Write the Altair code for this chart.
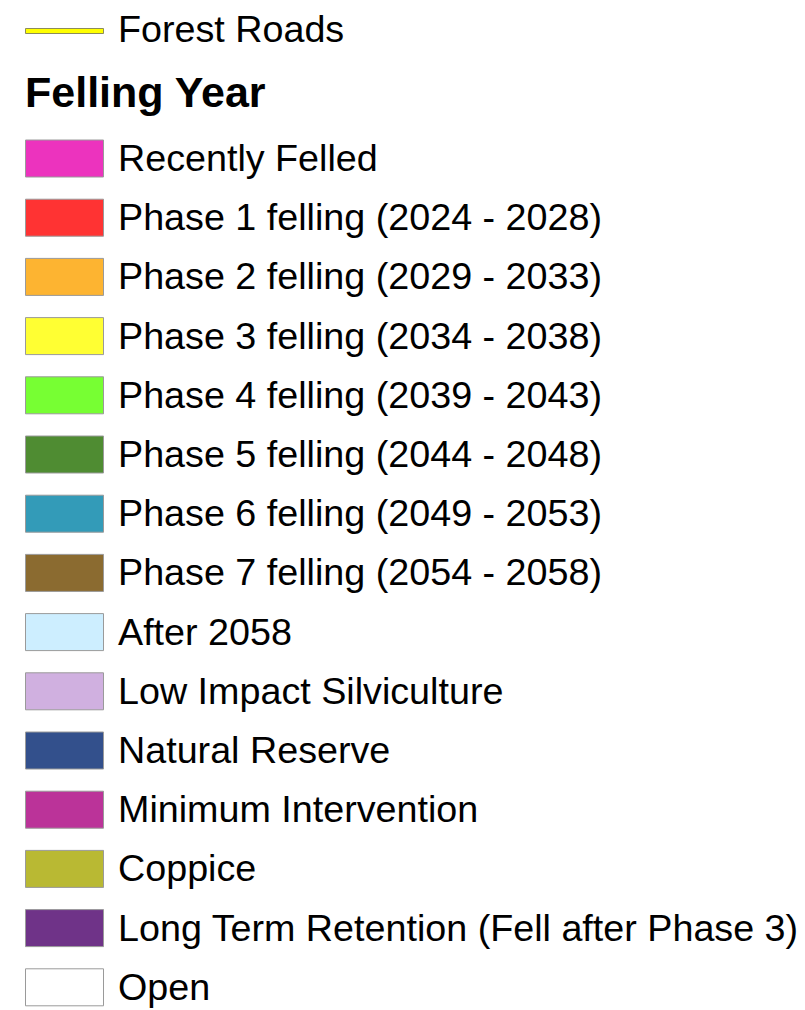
import altair as alt
import pandas as pd

FONT = "Liberation Sans, Arial, sans-serif"

legend_title = "Felling Year"
road_label = "Forest Roads"
road_color = "#ffff00"

categories = [
    "Recently Felled",
    "Phase 1 felling (2024 - 2028)",
    "Phase 2 felling (2029 - 2033)",
    "Phase 3 felling (2034 - 2038)",
    "Phase 4 felling (2039 - 2043)",
    "Phase 5 felling (2044 - 2048)",
    "Phase 6 felling (2049 - 2053)",
    "Phase 7 felling (2054 - 2058)",
    "After 2058",
    "Low Impact Silviculture",
    "Natural Reserve",
    "Minimum Intervention",
    "Coppice",
    "Long Term Retention (Fell after Phase 3)",
    "Open",
]
colors = [
    "#ec33be",
    "#ff3333",
    "#fdb431",
    "#ffff33",
    "#77ff33",
    "#4f8c32",
    "#339bb8",
    "#8b6b30",
    "#cdeeff",
    "#d0b0e0",
    "#33508c",
    "#bb3399",
    "#b9b933",
    "#6f3388",
    "#ffffff",
]

df = pd.DataFrame({"label": categories, "color": colors})
road_df = pd.DataFrame({"label": [road_label]})
title_df = pd.DataFrame({"label": [legend_title]})

yscale = alt.Scale(domain=categories, range=[132, 997.8], paddingInner=0.375, paddingOuter=0)
yenc = alt.Y("label:N", scale=yscale, axis=None, sort=categories)

swatches = alt.Chart(df).mark_rect(stroke="#9a9a9a", strokeWidth=1).encode(
    y=yenc,
    x=alt.value(17.5),
    x2=alt.value(95.5),
    fill=alt.Fill("color:N", scale=None),
)

labels = alt.Chart(df).mark_text(
    align="left", baseline="alphabetic", dy=12.5, fontSize=37.7, font=FONT, color="#000000"
).encode(
    y=yenc,
    x=alt.value(110),
    text="label:N",
)

road_line = alt.Chart(road_df).mark_rect(
    fill=road_color, stroke="#8c8c5a", strokeWidth=1
).encode(
    x=alt.value(17.5), x2=alt.value(95.5), y=alt.value(20.5), y2=alt.value(25.5)
)

road_text = alt.Chart(road_df).mark_text(
    align="left", baseline="alphabetic", fontSize=37.7, font=FONT, color="#000000"
).encode(x=alt.value(110), y=alt.value(34.3), text="label:N")

title_text = alt.Chart(title_df).mark_text(
    align="left", baseline="alphabetic", fontSize=43, fontWeight="bold", font=FONT, color="#000000"
).encode(x=alt.value(17), y=alt.value(99), text="label:N")

chart = alt.layer(road_line, road_text, title_text, swatches, labels).properties(
    width=789,
    height=1002,
    padding=0,
    autosize=alt.AutoSizeParams(type="none"),
).configure_view(strokeWidth=0)

chart.save("out.html", embed_options={"renderer": "svg", "actions": False})
